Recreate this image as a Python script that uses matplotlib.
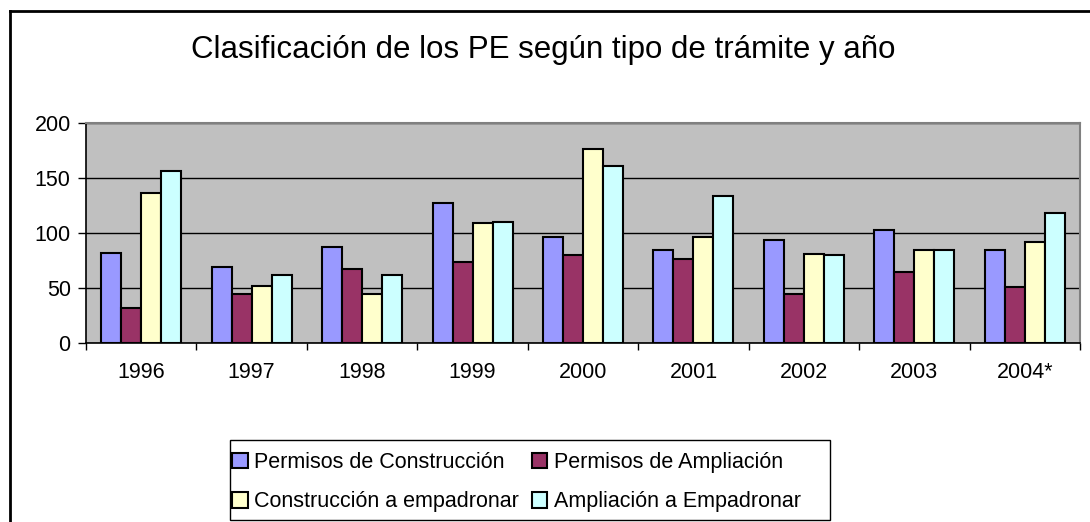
import matplotlib
matplotlib.use("Agg")
import matplotlib.pyplot as plt
import numpy as np
from matplotlib.lines import Line2D
from matplotlib.patches import Rectangle

plt.rcParams['font.family'] = ['Liberation Sans', 'DejaVu Sans']

years = ['1996', '1997', '1998', '1999', '2000', '2001', '2002', '2003', '2004*']
series_names = ['Permisos de Construcción', 'Permisos de Ampliación',
                'Construcción a empadronar', 'Ampliación a Empadronar']
permisos_construccion = [82, 69, 87, 127, 96, 85, 94, 103, 85]
permisos_ampliacion = [32, 45, 67, 74, 80, 76, 45, 65, 51]
construccion_empadronar = [136, 52, 45, 109, 176, 96, 81, 85, 92]
ampliacion_empadronar = [156, 62, 62, 110, 161, 134, 80, 85, 118]
colors = ['#9999FF', '#993366', '#FFFFCC', '#CCFFFF']
title = 'Clasificación de los PE según tipo de trámite y año'

W, H = 1090, 522
fig = plt.figure(figsize=(W / 100, H / 100), dpi=100)
ax = fig.add_axes([86 / W, 1 - 343 / H, (1080 - 86) / W, (343 - 123) / H])
ax.set_facecolor('#C0C0C0')

data = [permisos_construccion, permisos_ampliacion, construccion_empadronar, ampliacion_empadronar]
x = np.arange(len(years))
bw = 0.181
bars = []
for i, (vals, c, name) in enumerate(zip(data, colors, series_names)):
    b = ax.bar(x + (i - 1.5) * bw, vals, width=bw, color=c, edgecolor='black',
               linewidth=1.5, label=name, zorder=3)
    bars.append(b)

ax.set_xlim(-0.5, len(years) - 0.5)
ax.set_ylim(0, 200)
ax.set_yticks([0, 50, 100, 150, 200])
ax.yaxis.grid(True, color='black', linewidth=1.0, zorder=1)
ax.set_axisbelow(True)
ax.tick_params(axis='y', labelsize=15.5, length=6, width=1, pad=5, direction='out')
ax.set_xticks(x)
ax.set_xticklabels(years)
ax.tick_params(axis='x', which='major', length=0, labelsize=15.5, pad=14)
ax.set_xticks(np.arange(-0.5, len(years), 1.0), minor=True)
ax.tick_params(axis='x', which='minor', length=5, width=1, direction='out')
for s in ['left', 'bottom']:
    ax.spines[s].set_color('black')
    ax.spines[s].set_linewidth(1.2)
for s in ['top', 'right']:
    ax.spines[s].set_color('#808080')
    ax.spines[s].set_linewidth(1.5)

fig.text(543 / W, 1 - 58 / H, title, ha='center', va='baseline', fontsize=22.5)

# legend frame box
fig.add_artist(Rectangle((230 / W, 1 - 520 / H), 600 / W, 80 / H, transform=fig.transFigure,
                         facecolor='white', edgecolor='black', linewidth=1.0, zorder=1))
order = [0, 2, 1, 3]
leg = fig.legend([bars[i] for i in order], [series_names[i] for i in order],
                 loc='upper left', bbox_to_anchor=(230 / W, 1 - 450 / H), ncol=2,
                 fontsize=15.5, frameon=False,
                 handlelength=0.72, handleheight=0.72, handletextpad=0.3,
                 columnspacing=0.6, labelspacing=0.85, borderpad=0.1, borderaxespad=0)
leg.set_zorder(2)
for h in leg.legend_handles:
    h.set_linewidth(1.5)

# outer chart border (left and top only visible)
fig.add_artist(Line2D([10 / W, 10 / W], [0, 1 - 11 / H], transform=fig.transFigure,
                      color='black', linewidth=2))
fig.add_artist(Line2D([10 / W, 1], [1 - 11 / H, 1 - 11 / H], transform=fig.transFigure,
                      color='black', linewidth=2))

fig.savefig('out.png', dpi=100)
